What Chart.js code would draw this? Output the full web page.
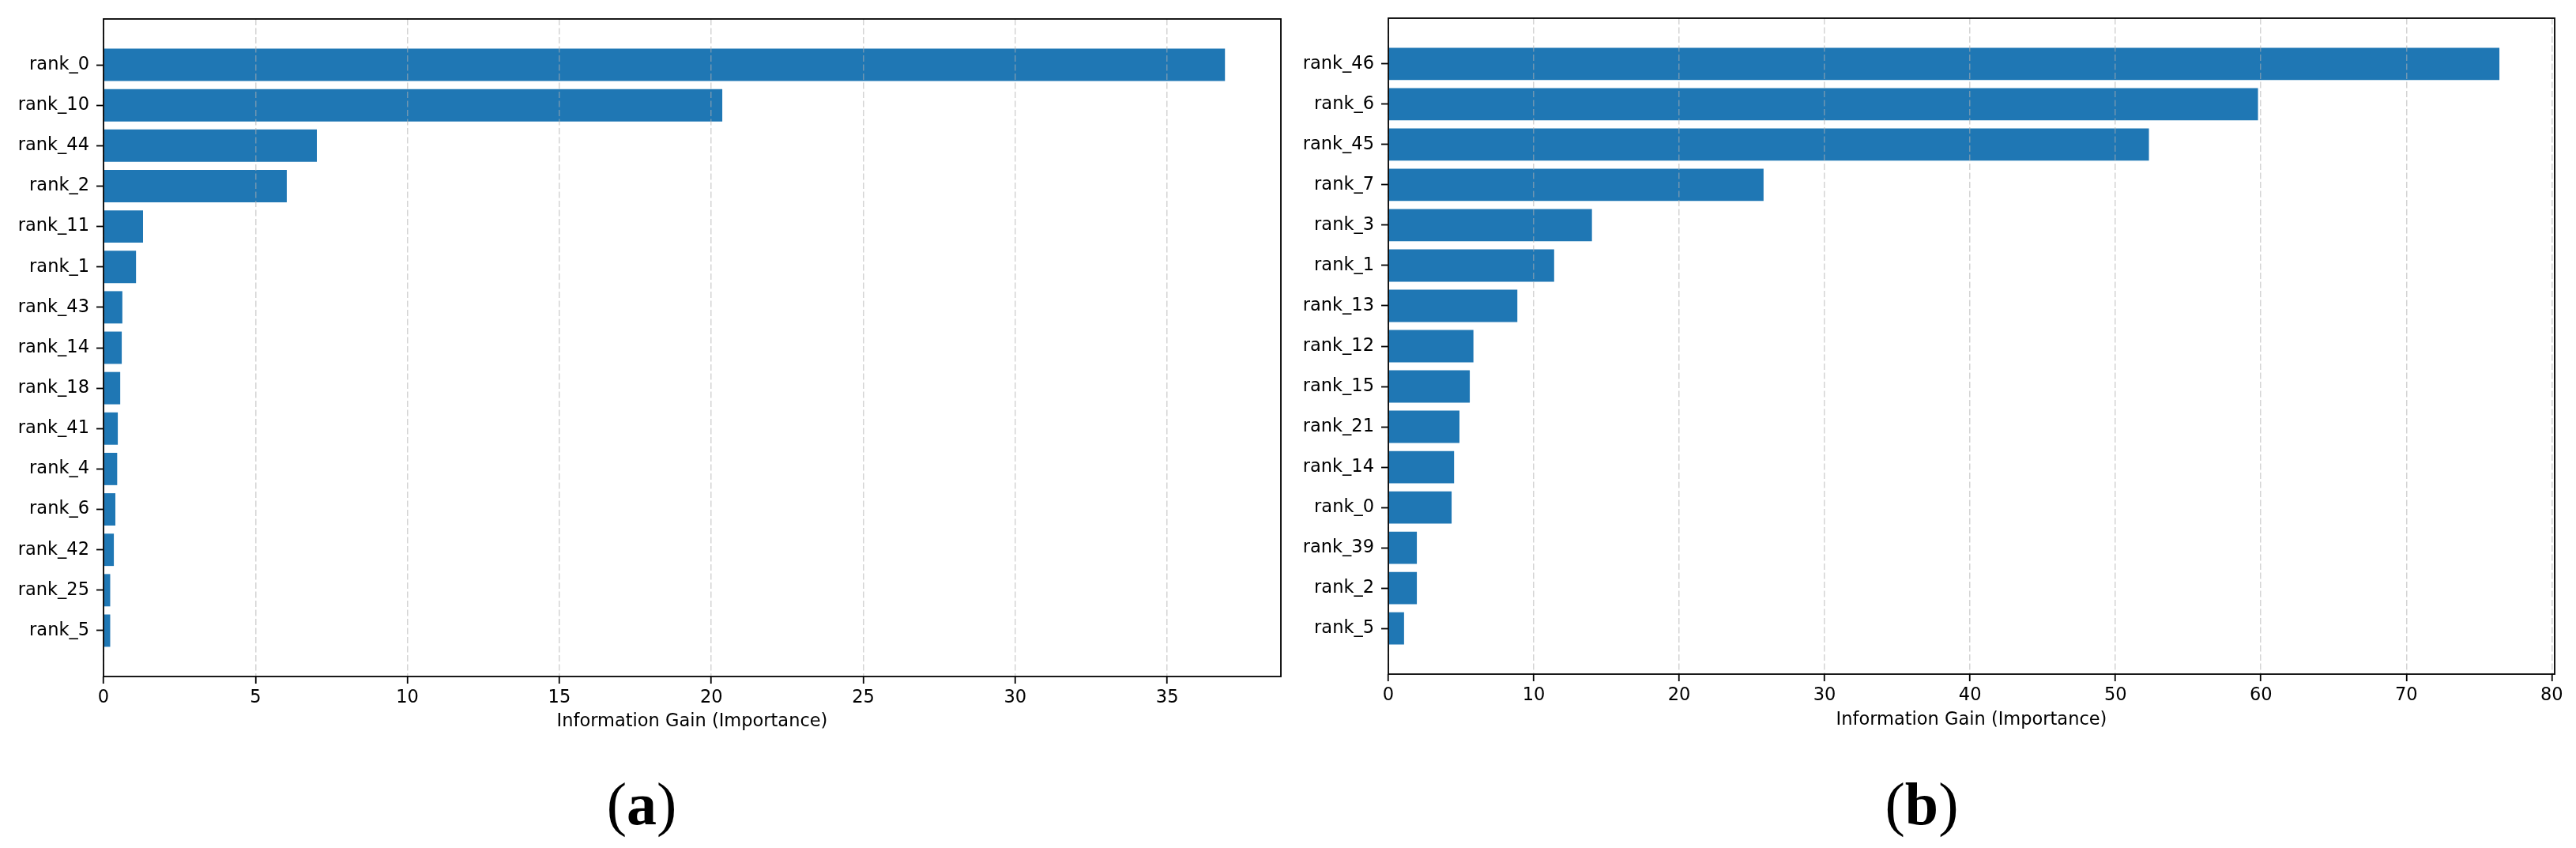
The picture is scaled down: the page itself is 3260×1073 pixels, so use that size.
<!DOCTYPE html>
<html>
<head>
<meta charset="utf-8">
<script src="https://cdn.jsdelivr.net/npm/chart.js@4.4.1/dist/chart.umd.min.js"></script>
<style>
  html, body { margin: 0; padding: 0; background: #fff; width: 3260px; height: 1073px; overflow: hidden; }
  canvas { position: absolute; top: 0; }
  #cA { left: 0; }
  #cB { left: 1640px; }
  .cap { position: absolute; width: 300px; text-align: center; font-family: "Liberation Serif", "DejaVu Serif", serif; font-size: 76px; line-height: 76px; color: #000; top: 979px; }
  .cap b { font-weight: bold; }
</style>
</head>
<body>
<canvas id="cA" width="1640" height="960"></canvas>
<canvas id="cB" width="1620" height="960"></canvas>
<div class="cap" style="left:662px;">(<b>a</b>)</div>
<div class="cap" style="left:2282px;">(<b>b</b>)</div>
<script>
// ---- Data ----
const labelsA = ["rank_0","rank_10","rank_44","rank_2","rank_11","rank_1","rank_43","rank_14","rank_18","rank_41","rank_4","rank_6","rank_42","rank_25","rank_5"];
const valuesA = [36.9, 20.36, 7.02, 6.03, 1.30, 1.07, 0.62, 0.60, 0.55, 0.47, 0.45, 0.39, 0.34, 0.22, 0.22];
const labelsB = ["rank_46","rank_6","rank_45","rank_7","rank_3","rank_1","rank_13","rank_12","rank_15","rank_21","rank_14","rank_0","rank_39","rank_2","rank_5"];
const valuesB = [76.4, 59.8, 52.3, 25.8, 14.0, 11.4, 8.87, 5.85, 5.6, 4.89, 4.52, 4.35, 1.96, 1.96, 1.08];
const xTicksA = [0, 5, 10, 15, 20, 25, 30, 35];
const xTicksB = [0, 10, 20, 30, 40, 50, 60, 70, 80];
const xMaxA = 38.74;
const xMaxB = 80.2;
const axisTitle = "Information Gain (Importance)";

const FONT = "'DejaVu Sans', sans-serif";
const BAR = "#1f77b4";

const framePlugin = {
  id: 'frame',
  afterDraw(chart) {
    const a = chart.chartArea, ctx = chart.ctx;
    ctx.save();
    ctx.strokeStyle = '#000';
    ctx.lineWidth = 1.8;
    ctx.strokeRect(a.left, a.top, a.right - a.left, a.bottom - a.top);
    ctx.restore();
  }
};

function makeChart(id, labels, values, xTicks, xMax, yWidth, xHeight, pad, titlePadBottom) {
  const data = values.map((v, i) => ({ x: v, y: i }));
  return new Chart(document.getElementById(id), {
    type: 'bar',
    data: {
      datasets: [{
        data: data,
        backgroundColor: BAR,
        borderWidth: 0,
        barPercentage: 0.8,
        categoryPercentage: 1.0
      }]
    },
    plugins: [framePlugin],
    options: {
      indexAxis: 'y',
      responsive: false,
      devicePixelRatio: 1,
      animation: false,
      layout: { padding: pad },
      plugins: { legend: { display: false }, tooltip: { enabled: false } },
      scales: {
        x: {
          type: 'linear',
          position: 'bottom',
          offset: false,
          min: 0,
          max: xMax,
          afterBuildTicks(scale) { scale.ticks = xTicks.map(v => ({ value: v })); },
          afterFit(scale) { scale.height = xHeight; },
          ticks: {
            autoSkip: false,
            maxRotation: 0,
            color: '#000',
            padding: 5,
            font: { family: FONT, size: 22.5 },
            callback: (v) => String(v)
          },
          grid: {
            display: true,
            offset: false,
            drawOnChartArea: true,
            drawTicks: true,
            color: 'rgba(176,176,176,0.55)',
            lineWidth: 1.5,
            tickColor: '#000',
            tickWidth: 1.8,
            tickLength: 9,
            tickBorderDash: [],
            z: 1
          },
          border: { display: false, dash: [8, 3.5] },
          title: {
            display: true,
            text: axisTitle,
            color: '#000',
            font: { family: FONT, size: 22.5, lineHeight: 1.2 },
            padding: { top: 0, bottom: titlePadBottom }
          }
        },
        y: {
          type: 'linear',
          position: 'left',
          reverse: true,
          offset: false,
          min: -1.135,
          max: 15.135,
          afterBuildTicks(scale) { scale.ticks = labels.map((_, i) => ({ value: i })); },
          afterFit(scale) { scale.width = yWidth; },
          ticks: {
            autoSkip: false,
            color: '#000',
            padding: 9,
            font: { family: FONT, size: 22.5 },
            callback: (v) => labels[v]
          },
          grid: {
            display: true,
            offset: false,
            drawOnChartArea: false,
            drawTicks: true,
            tickColor: '#000',
            tickWidth: 1.8,
            tickLength: 9,
            tickBorderDash: []
          },
          border: { display: false }
        }
      }
    }
  });
}

makeChart('cA', labelsA, valuesA, xTicksA, xMaxA, 131, 104, { left: 0, right: 19, top: 24, bottom: 0 }, 33.5);
makeChart('cB', labelsB, valuesB, xTicksB, xMaxB, 117, 107, { left: 0, right: 27, top: 23, bottom: 0 }, 35.5);
</script>
</body>
</html>
